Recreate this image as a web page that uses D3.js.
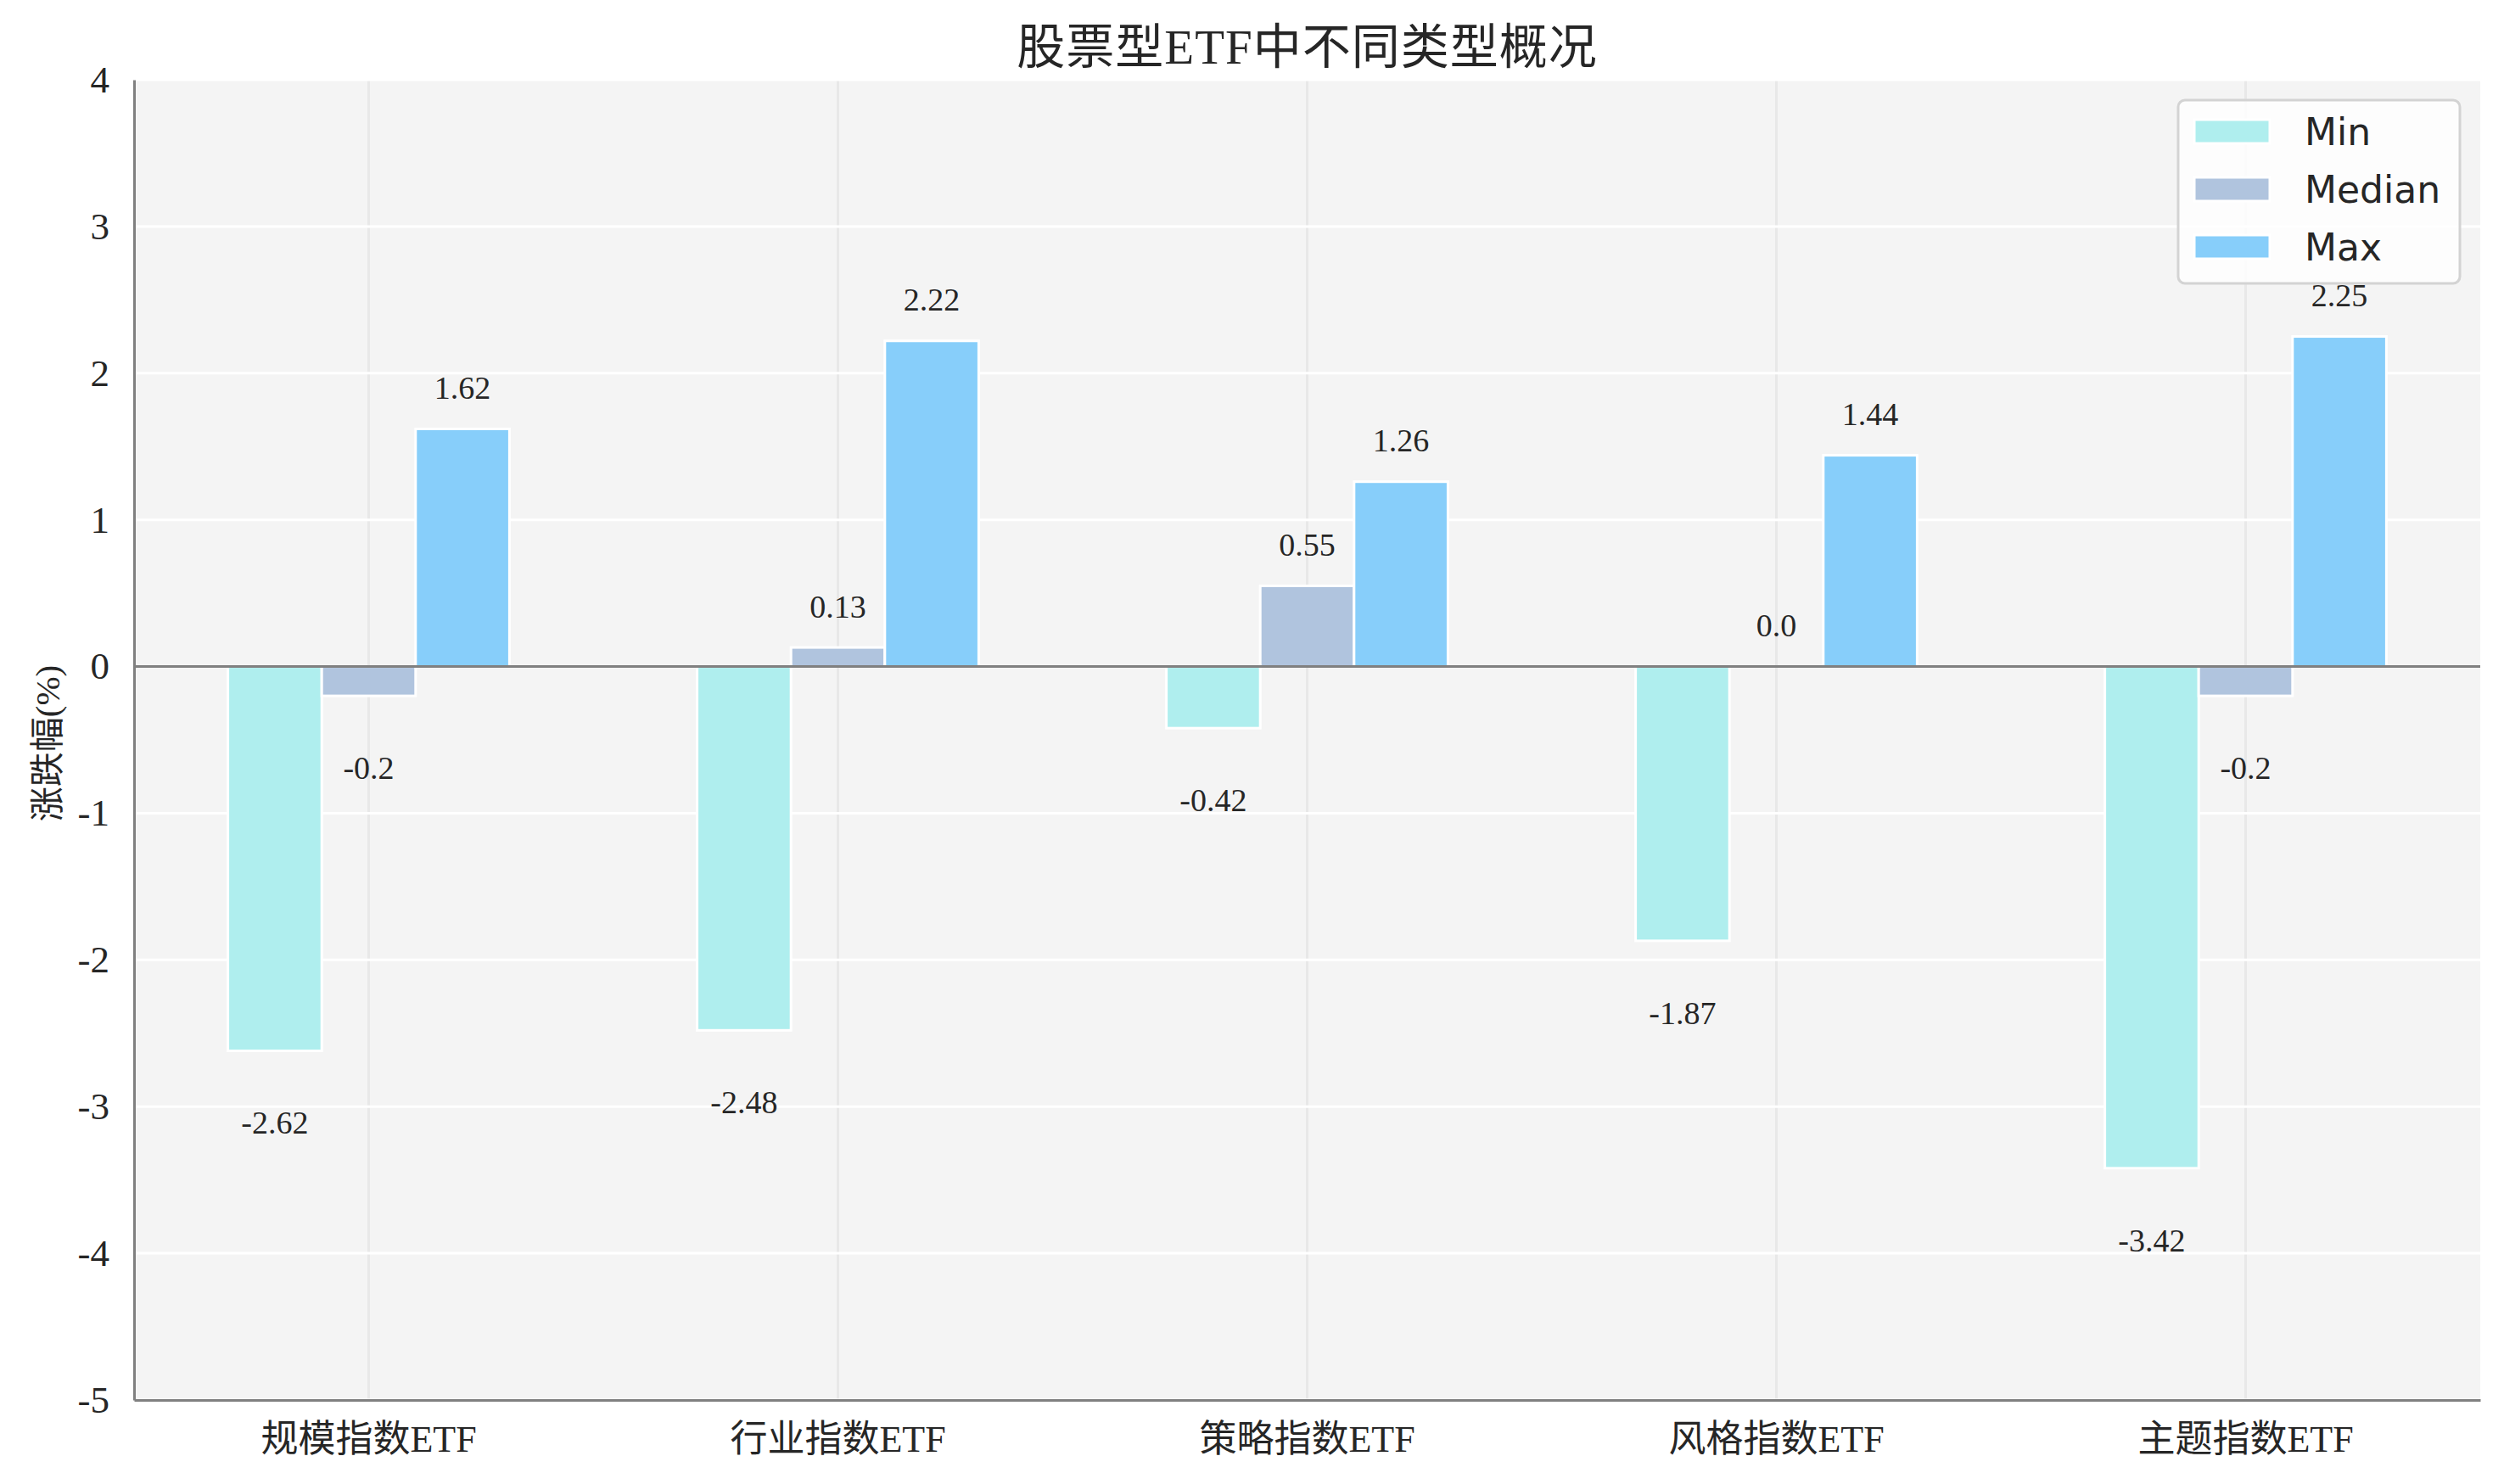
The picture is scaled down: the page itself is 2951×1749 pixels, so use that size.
<!DOCTYPE html>
<html>
<head>
<meta charset="utf-8">
<script src="https://cdn.jsdelivr.net/npm/d3@7"></script>
<style>
  html, body { margin: 0; padding: 0; background: #ffffff; }
  svg { display: block; }
</style>
</head>
<body>
<div id="chart"></div>
<script>
const categories = ['规模指数ETF', '行业指数ETF', '策略指数ETF', '风格指数ETF', '主题指数ETF'];
const seriesNames = ['Min', 'Median', 'Max'];
const minValues = [-2.62, -2.48, -0.42, -1.87, -3.42];
const medianValues = [-0.2, 0.13, 0.55, 0.0, -0.2];
const maxValues = [1.62, 2.22, 1.26, 1.44, 2.25];
const seriesColors = ['#afeeee', '#b0c4de', '#87cefa'];
const yTickValues = [-5, -4, -3, -2, -1, 0, 1, 2, 3, 4];
const titleText = '股票型ETF中不同类型概况';
const yLabelText = '涨跌幅(%)';

const W = 2951, H = 1749;
const margin = { left: 158, right: W - 2923, top: 94, bottom: H - 1650 };
const serif = '"Liberation Serif", "Noto Sans CJK SC", serif';
const sans = '"DejaVu Sans", sans-serif';

const svg = d3.select('#chart').append('svg')
  .attr('width', W).attr('height', H)
  .attr('viewBox', `0 0 ${W} ${H}`);

const x = d3.scaleBand().domain(categories).range([margin.left, W - margin.right]).padding(0);
const y = d3.scaleLinear().domain([-5, 4]).range([H - margin.bottom, margin.top]);
const sub = d3.scaleBand().domain(seriesNames).range([-0.3, 0.3]);

const seriesValues = [minValues, medianValues, maxValues];
const data = [];
categories.forEach((c, i) => {
  seriesNames.forEach((s, j) => {
    data.push({ cat: c, series: s, value: seriesValues[j][i], color: seriesColors[j] });
  });
});

// background
svg.append('rect')
  .attr('x', margin.left).attr('y', margin.top)
  .attr('width', W - margin.left - margin.right)
  .attr('height', H - margin.top - margin.bottom)
  .attr('fill', '#f4f4f4');

// vertical grid
svg.append('g').selectAll('line').data(categories).join('line')
  .attr('x1', d => x(d) + x.bandwidth() / 2).attr('x2', d => x(d) + x.bandwidth() / 2)
  .attr('y1', margin.top).attr('y2', H - margin.bottom)
  .attr('stroke', '#e8e8e8').attr('stroke-width', 3);

// horizontal grid
svg.append('g').selectAll('line').data(yTickValues).join('line')
  .attr('x1', margin.left).attr('x2', W - margin.right)
  .attr('y1', d => y(d)).attr('y2', d => y(d))
  .attr('stroke', '#ffffff').attr('stroke-width', 3);

// bars
const bw = x.bandwidth();
svg.append('g').selectAll('rect').data(data).join('rect')
  .attr('x', d => x(d.cat) + bw / 2 + sub(d.series) * bw)
  .attr('width', sub.bandwidth() * bw)
  .attr('y', d => y(Math.max(0, d.value)))
  .attr('height', d => Math.abs(y(d.value) - y(0)))
  .attr('fill', d => d.color)
  .attr('stroke', '#ffffff').attr('stroke-width', 3);

// zero line
svg.append('line')
  .attr('x1', margin.left).attr('x2', W - margin.right)
  .attr('y1', y(0)).attr('y2', y(0))
  .attr('stroke', '#808080').attr('stroke-width', 3);

// value labels
const fmt = v => Number.isInteger(v) ? v.toFixed(1) : String(v);
svg.append('g').selectAll('text').data(data).join('text')
  .attr('x', d => x(d.cat) + bw / 2 + (sub(d.series) + sub.bandwidth() / 2) * bw)
  .attr('y', d => d.value >= 0 ? y(d.value + 0.28) : y(d.value - 0.49))
  .attr('dominant-baseline', 'central')
  .attr('text-anchor', 'middle')
  .attr('font-family', serif).attr('font-size', 38)
  .attr('fill', '#262626')
  .text(d => fmt(d.value));

// axes
const yAxis = svg.append('g')
  .attr('transform', `translate(${margin.left},0)`)
  .call(d3.axisLeft(y).tickValues(yTickValues).tickSize(0).tickPadding(29).tickFormat(d => String(d)));
yAxis.select('.domain').attr('stroke', '#808080').attr('stroke-width', 3);
yAxis.selectAll('text').attr('font-family', serif).attr('font-size', 45).attr('fill', '#262626');

const xAxis = svg.append('g')
  .attr('transform', `translate(0,${H - margin.bottom})`)
  .call(d3.axisBottom(x).tickSize(0).tickPadding(0));
xAxis.select('.domain').attr('stroke', '#808080').attr('stroke-width', 3);
xAxis.selectAll('text').attr('y', 61).attr('dy', 0)
  .attr('font-family', serif).attr('font-size', 44).attr('fill', '#262626');

// title
svg.append('text')
  .attr('x', (margin.left + W - margin.right) / 2).attr('y', 75)
  .attr('text-anchor', 'middle')
  .attr('font-family', serif).attr('font-size', 57).attr('fill', '#262626')
  .attr('letter-spacing', 1)
  .text(titleText);

// y label
svg.append('text')
  .attr('transform', `translate(56,${(margin.top + H - margin.bottom) / 2 + 4}) rotate(-90)`)
  .attr('text-anchor', 'middle').attr('dominant-baseline', 'central')
  .attr('font-family', serif).attr('font-size', 41).attr('fill', '#262626')
  .text(yLabelText);

// legend
const lg = svg.append('g').attr('transform', 'translate(2567,118)');
lg.append('rect')
  .attr('width', 332).attr('height', 216).attr('rx', 8).attr('ry', 8)
  .attr('fill', '#ffffff').attr('fill-opacity', 0.8)
  .attr('stroke', '#d3d3d3').attr('stroke-width', 3);
const items = lg.selectAll('g.item').data(seriesNames).join('g')
  .attr('class', 'item')
  .attr('transform', (d, i) => `translate(0,${37 + i * 68})`);
items.append('rect')
  .attr('x', 19).attr('y', -14).attr('width', 89).attr('height', 28)
  .attr('fill', (d, i) => seriesColors[i])
  .attr('stroke', '#ffffff').attr('stroke-width', 3);
items.append('text')
  .attr('x', 149).attr('y', 0)
  .attr('dominant-baseline', 'central')
  .attr('font-family', sans).attr('font-size', 44).attr('fill', '#262626')
  .text(d => d);
</script>
</body>
</html>
